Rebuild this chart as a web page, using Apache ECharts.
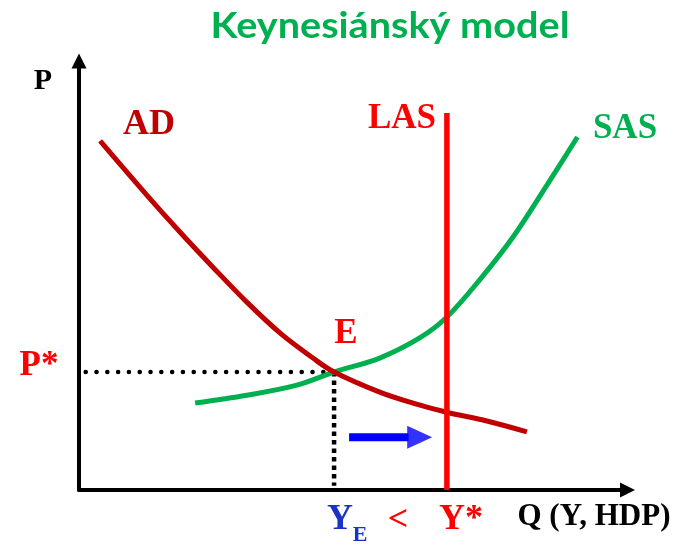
<!DOCTYPE html>
<html>
<head>
<meta charset="utf-8">
<script src="https://cdn.jsdelivr.net/npm/echarts@6/dist/echarts.min.js"></script>
<style>html,body{margin:0;padding:0;background:#fff;}#c{width:677px;height:544px;}</style>
</head>
<body>
<div id="c"></div>
<script>
// Quantity (Q) and price (P) in relative units 0..100
var adQ  = [3.8, 12.2, 18.2, 24.1, 30.2, 36.2, 42.1, 45.9, 54.1, 60.1, 66.2, 73.4, 80.6];
var adP  = [79.9, 67.5, 59.0, 51.0, 43.0, 35.9, 30.2, 27.0, 22.4, 19.9, 17.8, 15.8, 13.3];
var sasQ = [20.9, 30.2, 39.2, 45.9, 54.1, 61.3, 66.2, 72.1, 78.1, 84.2, 89.7];
var sasP = [19.9, 21.7, 24.0, 27.0, 30.2, 34.8, 39.6, 48.1, 57.9, 69.8, 80.8];
var lasQ = [66.2, 66.2];
var lasP = [0, 86.3];
var eqQ = 45.9, eqP = 27.0;          // equilibrium E (YE, P*)
var shiftQ = [48.6, 59.3];           // blue arrow shaft
var shiftHeadQ = 61.3, shiftP = 12.1;

var pair = function(xs, ys){ return xs.map(function(x,i){ return [x, ys[i]]; }); };

var chart = echarts.init(document.getElementById('c'), null, {renderer:'canvas'});
var serif = '"Liberation Serif", "Times New Roman", serif';
function txt(x, y, s, size, color, sx){
  return {type:'text', x:x, y:y, scaleX: sx||1, z:100,
    style:{x:0, y:0, text:s, font:'bold '+size+'px '+serif, fill:color, align:'center', verticalAlign:'middle'}};
}
var option = {
  animation:false,
  grid:{left:79, right:49.5, top:61, bottom:54, containLabel:false},
  xAxis:{type:'value', min:0, max:98.7, splitLine:{show:false}, axisTick:{show:false}, axisLabel:{show:false},
    axisLine:{show:true, symbol:['none','triangle'], symbolSize:[15,15], lineStyle:{color:'#000', width:4}}},
  yAxis:{type:'value', min:0, max:98.2, splitLine:{show:false}, axisTick:{show:false}, axisLabel:{show:false},
    axisLine:{show:true, symbol:['none','triangle'], symbolSize:[15,15], lineStyle:{color:'#000', width:4}}},
  series:[
    {type:'line', data:[[1.2, eqP],[eqQ, eqP]], symbol:'none', lineStyle:{color:'#000', width:4.5, type:[0.1,10.7], cap:'round'}, z:3},
    {type:'line', data:[[eqQ, eqP],[eqQ, 1]], symbol:'none', lineStyle:{color:'#000', width:4.5, type:[4.5,4], cap:'butt'}, z:3},
    {type:'line', data:pair(sasQ, sasP), smooth:0.35, symbol:'none', lineStyle:{color:'#00b050', width:5}, z:4},
    {type:'line', data:pair(adQ, adP), smooth:0.35, symbol:'none', lineStyle:{color:'#c00000', width:5}, z:5},
    {type:'line', data:pair(lasQ, lasP), symbol:'none', lineStyle:{color:'#ff0000', width:5.5, cap:'butt'}, z:6},
    {type:'line', data:[[shiftQ[0], shiftP],[shiftQ[1], shiftP]], symbol:'none', lineStyle:{color:'#0000ff', width:8, cap:'butt'}, z:7},
    {type:'scatter', data:[[shiftHeadQ, shiftP]], symbol:'triangle', symbolSize:[23,25], symbolRotate:-90, itemStyle:{color:'#0000ff'}, z:7}
  ],
  graphic:[
    {type:'text', x:390, y:26, scaleX:1.1, z:100, style:{x:0,y:0,text:'Keynesiánský model', font:'bold 36px Lato, "Open Sans", sans-serif', fill:'#00b050', align:'center', verticalAlign:'middle'}},
    txt(43, 81, 'P', 30, '#000'),
    txt(149, 125, 'AD', 36, '#c00000'),
    txt(402, 119, 'LAS', 35, '#ff0000'),
    txt(625, 129, 'SAS', 35, '#00b050'),
    txt(346, 334, 'E', 35, '#ff0000'),
    txt(39, 366, 'P*', 35, '#ff0000'),
    txt(340, 520, 'Y', 36, '#1a33c4'),
    txt(360, 535, 'E', 22, '#1a33c4'),
    txt(398, 521, '<', 36, '#ff0000'),
    txt(461, 520, 'Y*', 36, '#ff0000'),
    txt(594, 517, 'Q (Y, HDP)', 31, '#000')
  ]
};
chart.setOption(option);
</script>
</body>
</html>
